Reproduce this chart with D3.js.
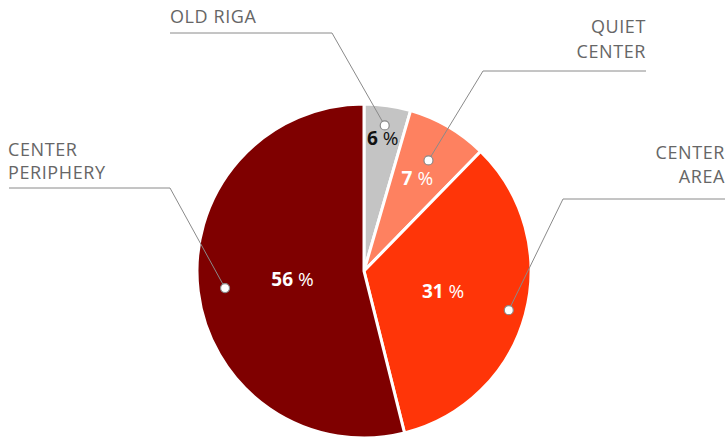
<!DOCTYPE html>
<html>
<head>
<meta charset="utf-8">
<script src="https://cdn.jsdelivr.net/npm/d3@7/dist/d3.min.js"></script>
<style>
  html, body { margin: 0; padding: 0; background: #fff; }
  svg { display: block; font-family: "Open Sans", sans-serif; }
</style>
</head>
<body>
<svg id="chart" width="728" height="439"></svg>
<script>
// Data
const categories = ["OLD RIGA", "QUIET CENTER", "CENTER AREA", "CENTER PERIPHERY"];
const categoryLines = [["OLD RIGA"], ["QUIET", "CENTER"], ["CENTER", "AREA"], ["CENTER", "PERIPHERY"]];
const shares = [4.5, 7.8, 33.8, 53.9];          // slice sizes as drawn
const percentLabels = ["6", "7", "31", "56"];   // printed labels
const colors = ["#c4c4c4", "#fe8160", "#ff3508", "#7f0000"];
const labelColors = ["#111", "#fff", "#fff", "#fff"];

// Layout (not data)
const cx = 364, cy = 271, R = 167;
const labelRadius = [133, 106, 82, 72];
const dotRadius = [147, 128, 150, 140];
const callouts = [
  { elbow: [332, 33], end: 170, anchor: "start", textX: 170, baselines: [23] },
  { elbow: [483, 71], end: 646, anchor: "end", textX: 646, baselines: [33, 58] },
  { elbow: [563, 199], end: 725, anchor: "end", textX: 725, baselines: [159, 183] },
  { elbow: [170, 188], end: 9, anchor: "start", textX: 8, baselines: [156, 179] }
];

const svg = d3.select("#chart");
const g = svg.append("g").attr("transform", `translate(${cx},${cy})`);

const pie = d3.pie().sort(null).value(d => d)
  .startAngle(0).endAngle(2 * Math.PI);
const arcs = pie(shares);
const arc = d3.arc().innerRadius(0).outerRadius(R);

g.selectAll("path.slice").data(arcs).enter().append("path")
  .attr("class", "slice")
  .attr("d", arc)
  .attr("fill", (d, i) => colors[i])
  .attr("stroke", "#fff")
  .attr("stroke-width", 3)
  .attr("stroke-linejoin", "miter");

function polar(a, r) { return [r * Math.sin(a), -r * Math.cos(a)]; }

// percentage labels
arcs.forEach((d, i) => {
  const mid = (d.startAngle + d.endAngle) / 2;
  const [x, y] = polar(mid, labelRadius[i]);
  const t = g.append("text")
    .attr("x", x).attr("y", y + 6)
    .attr("text-anchor", "middle")
    .attr("fill", labelColors[i])
    .style("font-size", "19px");
  t.append("tspan").attr("font-weight", 700).text(percentLabels[i]);
  t.append("tspan").attr("font-weight", 400).text(" %");
});

// callouts
arcs.forEach((d, i) => {
  const mid = (d.startAngle + d.endAngle) / 2;
  const [dx, dy] = polar(mid, dotRadius[i]);
  const px = cx + dx, py = cy + dy;
  const c = callouts[i];
  svg.append("polyline")
    .attr("points", `${px},${py} ${c.elbow[0]},${c.elbow[1]} ${c.end},${c.elbow[1]}`)
    .attr("fill", "none")
    .attr("stroke", "#8a8a8a")
    .attr("stroke-width", 1);
  svg.append("circle")
    .attr("cx", px).attr("cy", py).attr("r", 4.5)
    .attr("fill", "#fff").attr("stroke", "#8a8a8a").attr("stroke-width", 1.2);
  categoryLines[i].forEach((line, j) => {
    svg.append("text")
      .attr("x", c.textX).attr("y", c.baselines[j])
      .attr("text-anchor", c.anchor)
      .attr("fill", "#666")
      .style("font-size", "18px")
      .style("letter-spacing", "0.6px")
      .text(line);
  });
});
</script>
</body>
</html>
